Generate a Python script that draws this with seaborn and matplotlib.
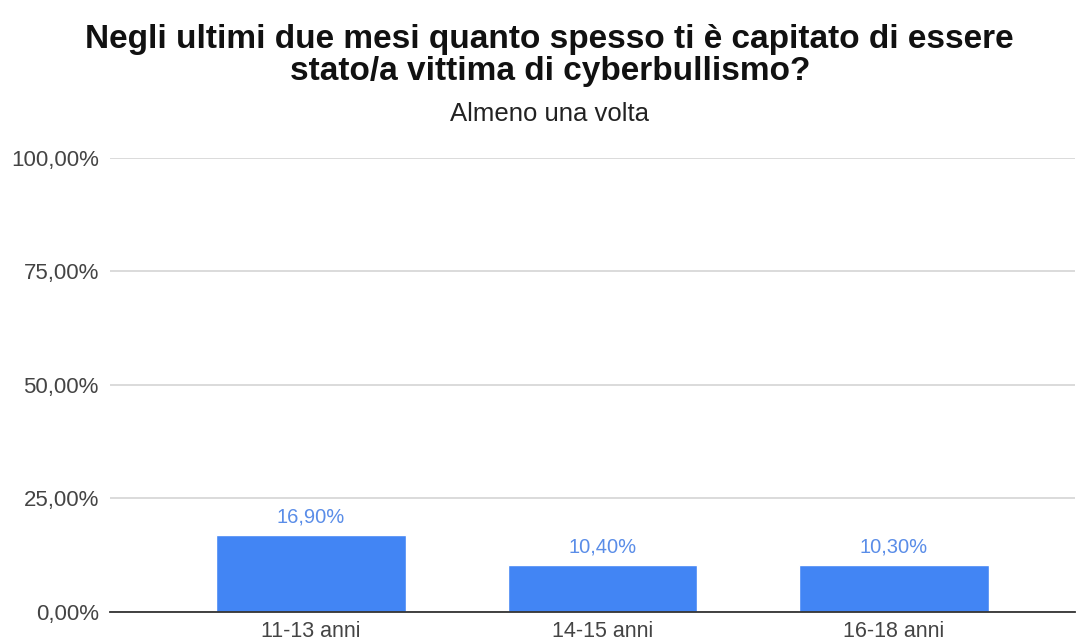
import matplotlib
matplotlib.use("Agg")
import matplotlib.pyplot as plt
from matplotlib.ticker import FuncFormatter
import pandas as pd
import seaborn as sns

# Data
categories = ["11-13 anni", "14-15 anni", "16-18 anni"]
values = [16.9, 10.4, 10.3]  # percent, "almeno una volta"
y_ticks = [0, 25, 50, 75, 100]

title = "Negli ultimi due mesi quanto spesso ti è capitato di essere\nstato/a vittima di cyberbullismo?"
subtitle = "Almeno una volta"

df = pd.DataFrame({"fascia": categories, "valore": values})

sns.set_theme(style="white")
plt.rcParams["font.family"] = ["Liberation Sans", "DejaVu Sans"]

fig = plt.figure(figsize=(10.78, 6.44), dpi=100)
ax = fig.add_axes([0.102, 0.0497, 0.895, 0.705])

sns.barplot(data=df, x="fascia", y="valore", color="#4285f4", width=0.65,
            saturation=1, ax=ax, zorder=3)

def pct(v):
    return f"{v:.2f}".replace(".", ",") + "%"

ax.bar_label(ax.containers[0], labels=[pct(v) for v in values],
             padding=6, color="#5a8de8", fontsize=14.5)

ax.set_ylim(0, 100)
ax.set_xlim(-0.69, 2.62)
ax.set_yticks(y_ticks)
ax.yaxis.set_major_formatter(FuncFormatter(lambda v, _: pct(v)))
ax.grid(axis="y", color="#d4d4d4", linewidth=1.2, zorder=0)
ax.grid(axis="x", visible=False)
for s in ["top", "right", "left"]:
    ax.spines[s].set_visible(False)
ax.spines["bottom"].set_color("#333333")
ax.spines["bottom"].set_linewidth(1.3)
ax.spines["bottom"].set_zorder(4)
ax.tick_params(axis="both", length=0, labelsize=15.5, colors="#444444")
ax.tick_params(axis="y", pad=8, labelsize=16)
ax.tick_params(axis="x", pad=6.5)
ax.set_xlabel("")
ax.set_ylabel("")

fig.text(0.510, 0.962, title, ha="center", va="top", fontsize=24,
         fontweight="bold", color="#111111", linespacing=1.03)
fig.text(0.510, 0.823, subtitle, ha="center", va="center", fontsize=18.5,
         color="#222222")

fig.savefig("out.png", dpi=100, facecolor="white")
